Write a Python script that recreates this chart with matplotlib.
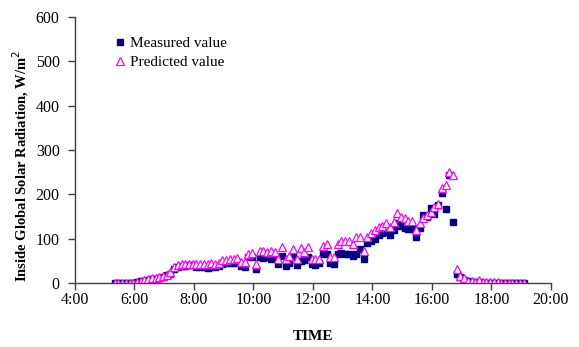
import numpy as np
import matplotlib
matplotlib.use("Agg")
import matplotlib.pyplot as plt

plt.rcParams['font.family'] = ['Liberation Serif', 'DejaVu Serif']

# samples every 7.5 min starting at 5:20
start_hour = 5 + 20 / 60
step_hour = 7.5 / 60

measured = [
    0, 0, 0, 0, 0, 1, 2, 4, 5, 7,
    9, 10, 12, 14, 17, 20, 32, 36, 38, 39,
    40, 40, 37, 36, 36, 34, 37, 35, 38, 44,
    45, 45, 46, 47, 38, 37, 58, 59, 32, 58,
    57, 58, 55, 57, 43, 61, 38, 45, 59, 41,
    50, 52, 59, 43, 41, 45, 65, 65, 45, 43,
    65, 68, 66, 65, 61, 65, 77, 54, 90, 95,
    99, 108, 113, 115, 108, 120, 135, 129, 124, 122,
    122, 104, 124, 153, 149, 169, 156, 176, 203, 167,
    244, 138, 20, 14, 7, 4, 3, 2, 2, 1,
    1, 1, 1, 1, 1, 1, 1, 1, 1, 1, 1,
]
predicted = [
    0, 0, 0, 0, 1, 1, 3, 5, 7, 9,
    11, 12, 14, 16, 19, 25, 36, 40, 42, 43,
    44, 44, 42, 43, 43, 42, 45, 43, 46, 52,
    53, 54, 55, 57, 48, 47, 66, 67, 44, 72,
    73, 71, 72, 70, 55, 81, 54, 61, 77, 54,
    79, 70, 81, 54, 54, 54, 83, 88, 59, 59,
    88, 95, 95, 95, 88, 104, 104, 72, 104, 113,
    120, 126, 129, 135, 126, 138, 158, 149, 147, 140,
    140, 120, 135, 147, 153, 160, 171, 178, 214, 221,
    250, 244, 31, 16, 11, 5, 5, 2, 6, 3,
    2, 2, 2, 2, 1, 1, 1, 1, 1, 1, 1,
]

x_ticks = [4, 6, 8, 10, 12, 14, 16, 18, 20]
x_tick_labels = ["4:00", "6:00", "8:00", "10:00", "12:00", "14:00", "16:00", "18:00", "20:00"]
y_ticks = [0, 100, 200, 300, 400, 500, 600]

hours = start_hour + step_hour * np.arange(len(measured))

fig = plt.figure(figsize=(5.79, 3.47), dpi=100)
ax = fig.add_axes([0.1295, 0.1844, 0.822, 0.7666])

ax.plot(hours, measured, linestyle='none', marker='s', markersize=5.0,
        color='#000080', markeredgecolor='#000080', label='Measured value')
ax.plot(hours, predicted, linestyle='none', marker='^', markersize=5.6,
        markerfacecolor='white', markeredgecolor='#FF00FF', markeredgewidth=0.9,
        label='Predicted value')

ax.set_xlim(4, 20)
ax.set_ylim(0, 600)
ax.set_xticks(x_ticks)
ax.set_xticklabels(x_tick_labels)
ax.set_yticks(y_ticks)

for side in ('top', 'right'):
    ax.spines[side].set_visible(False)
for side in ('left', 'bottom'):
    ax.spines[side].set_color('#404040')
    ax.spines[side].set_linewidth(1.0)
ax.tick_params(direction='out', length=5, width=1.0, color='#404040',
               labelsize=11.5, pad=6)
ax.tick_params(axis='x', pad=1.5)

ax.set_xlabel('TIME', fontsize=11, fontweight='bold')
ax.xaxis.set_label_coords(0.5, -0.175)
ax.set_ylabel('Inside Global Solar Radiation, W/m$^2$', fontsize=10.5,
              fontweight='bold')
ax.yaxis.set_label_coords(-0.092, 0.44)

ax.legend(loc='upper left', bbox_to_anchor=(0.065, 0.95), frameon=False,
          fontsize=11, handletextpad=0.2, labelspacing=0.35, markerscale=1.0,
          handlelength=1.0, borderaxespad=0)

fig.savefig('out.png', dpi=100)
